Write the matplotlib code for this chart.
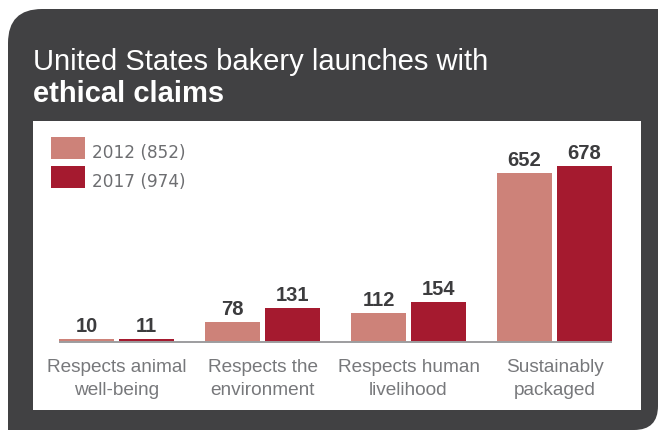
import matplotlib
matplotlib.use("Agg")
import matplotlib.pyplot as plt
import numpy as np
from matplotlib.path import Path
from matplotlib.patches import PathPatch, Rectangle

# data
categories = ["Respects animal\nwell-being", "Respects the\nenvironment",
              "Respects human\nlivelihood", "Sustainably\npackaged"]
series_names = ["2012 (852)", "2017 (974)"]
values_2012 = [10, 78, 112, 652]
values_2017 = [11, 131, 154, 678]

c_2012 = "#cd8279"
c_2017 = "#a51a2f"
dark = "#414143"

W, H = 658, 430
fig = plt.figure(figsize=(W / 100, H / 100), dpi=100)
fig.patch.set_facecolor("white")


def px(x, y):
    return (x / W, 1 - y / H)


# dark card, rounded top-left and bottom-right corners
r1, r2 = 34, 24
x0, y0, x1, y1 = 8, 9, 658, 430
verts = [px(x0, y0 + r1), px(x0, y0), px(x0 + r1, y0),
         px(x1, y0), px(x1, y1 - r2), px(x1, y1), px(x1 - r2, y1),
         px(x0, y1), px(x0, y0 + r1)]
codes = [Path.MOVETO, Path.CURVE3, Path.CURVE3,
         Path.LINETO, Path.LINETO, Path.CURVE3, Path.CURVE3,
         Path.LINETO, Path.CLOSEPOLY]
fig.add_artist(PathPatch(Path(verts, codes), transform=fig.transFigure,
                         facecolor=dark, edgecolor="none", zorder=0))

fig.text(*px(33, 70), "United States bakery launches with",
         color="white", fontsize=21, family="Liberation Sans", va="baseline")
fig.text(*px(33, 102), "ethical claims", color="white",
         fontsize=21, family="Liberation Sans", fontweight="bold", va="baseline")

# white chart panel
ax_l, ax_t, ax_r, ax_b = 33, 121, 641, 410
ax = fig.add_axes([ax_l / W, 1 - ax_b / H, (ax_r - ax_l) / W, (ax_b - ax_t) / H])
ax.set_facecolor("white")
for s in ax.spines.values():
    s.set_visible(False)
ax.set_xticks([])
ax.set_yticks([])


def ay(ypix):
    return (ax_b - ypix) / (ax_b - ax_t)


x = np.arange(len(categories))
w = 0.377
off = 0.2055
b1 = ax.bar(x - off, values_2012, w, color=c_2012, zorder=2)
b2 = ax.bar(x + off, values_2017, w, color=c_2017, zorder=2)

ax.set_xlim(-0.572, -0.572 + (ax_r - ax_l) / 146)
scale = 176 / 678
ax.set_ylim(-(ax_b - 342) / scale, (342 - ax_t) / scale)

ax.hlines(0, x[0] - off - w / 2, x[-1] + off + w / 2, color="#9d9d9f",
          lw=1.4, zorder=3)

for bars, vals in [(b1, values_2012), (b2, values_2017)]:
    for b, v in zip(bars, vals):
        ax.annotate(str(v), (b.get_x() + b.get_width() / 2, v),
                    xytext=(0, 5.2), textcoords="offset points",
                    ha="center", va="baseline", fontsize=14.5,
                    fontweight="bold", family="Liberation Sans", color="#3c3c3e")

# category names, two lines each
for xi, cat in zip(x, categories):
    for line, ypix in zip(cat.split("\n"), [372, 395]):
        ax.text(xi, ay(ypix), line, transform=ax.get_xaxis_transform(),
                ha="center", va="baseline", fontsize=13.7,
                family="Liberation Sans", color="#77787b")

# legend
for (top, bot, base), col, name in zip([(137, 159, 158), (166, 188, 187)],
                                       [c_2012, c_2017], series_names):
    ax.add_patch(Rectangle(((51 - ax_l) / (ax_r - ax_l), ay(bot)),
                           34 / (ax_r - ax_l), (bot - top) / (ax_b - ax_t),
                           transform=ax.transAxes, facecolor=col, edgecolor="none"))
    ax.text((92 - ax_l) / (ax_r - ax_l), ay(base), name, transform=ax.transAxes,
            va="baseline", ha="left", fontsize=12.2, family="DejaVu Sans",
            color="#6d6e71")

fig.savefig("out.png", dpi=100, facecolor=fig.get_facecolor())
